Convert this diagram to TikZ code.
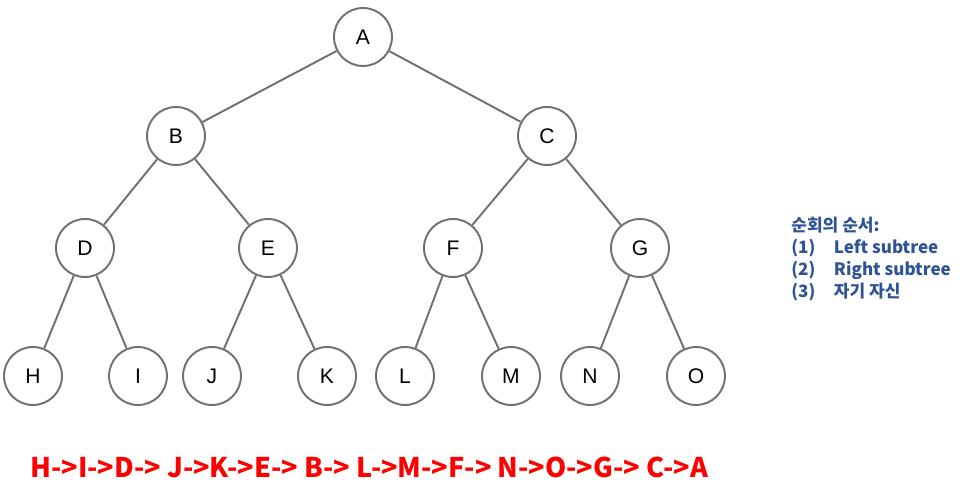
\documentclass[tikz,border=0pt]{standalone}
\usepackage{fontspec}
\setmainfont{Liberation Sans}
\newfontfamily\krfont{Noto Sans CJK KR}
\usepackage{xcolor}
\usetikzlibrary{positioning}
\definecolor{edgegray}{RGB}{112,112,112}
\definecolor{notered}{RGB}{255,0,0}
\definecolor{noteblue}{RGB}{47,84,150}
\tikzset{
  tnode/.style={
    circle,
    draw=edgegray,
    line width=1.1pt,
    fill=white,
    minimum size=1.16cm,
    inner sep=0pt,
    font=\fontsize{12}{14}\selectfont
  },
  edge/.style={edgegray, line width=1.1pt},
  note/.style={
    align=left,
    anchor=north west,
    inner sep=0pt,
    text=noteblue,
    font=\krfont\bfseries\fontsize{9.7}{12.5}\selectfont
  },
  order/.style={
    anchor=west,
    inner sep=0pt,
    text=notered,
    font=\krfont\bfseries\fontsize{15.4}{18}\selectfont
  }
}

\begin{document}
\begin{tikzpicture}[x=0.02cm, y=-0.02cm]
\useasboundingbox (0,0) rectangle (969,502);
% level 0
\node[tnode] (A) at (363,37) {A};
% level 1
\node[tnode] (B) at (176,136) {B};
\node[tnode] (C) at (547,136) {C};
% level 2
\node[tnode] (D) at (85,248) {D};
\node[tnode] (E) at (268,248) {E};
\node[tnode] (F) at (453,248) {F};
\node[tnode] (G) at (640,248) {G};
% leaves
\node[tnode] (H) at (33,376) {H};
\node[tnode] (I) at (138,376) {I};
\node[tnode] (J) at (212,376) {J};
\node[tnode] (K) at (327,376) {K};
\node[tnode] (L) at (405,376) {L};
\node[tnode] (M) at (511,376) {M};
\node[tnode] (N) at (590,376) {N};
\node[tnode] (O) at (696,376) {O};
\draw[edge] (A) -- (B);
\draw[edge] (A) -- (C);
\draw[edge] (B) -- (D);
\draw[edge] (B) -- (E);
\draw[edge] (C) -- (F);
\draw[edge] (C) -- (G);
\draw[edge] (D) -- (H);
\draw[edge] (D) -- (I);
\draw[edge] (E) -- (J);
\draw[edge] (E) -- (K);
\draw[edge] (F) -- (L);
\draw[edge] (F) -- (M);
\draw[edge] (G) -- (N);
\draw[edge] (G) -- (O);
% legend and order
\node[note] (legend) at (791,217) {순회의 순서:\\
  \makebox[2.5em][l]{(1)}Left subtree\\
  \makebox[2.5em][l]{(2)}Right subtree\\
  \makebox[2.5em][l]{(3)}자기 자신};
\node[order] (seq) at (30,467) {H->I->D-> J->K->E-> B-> L->M->F-> N->O->G-> C->A};
\end{tikzpicture}
\end{document}
